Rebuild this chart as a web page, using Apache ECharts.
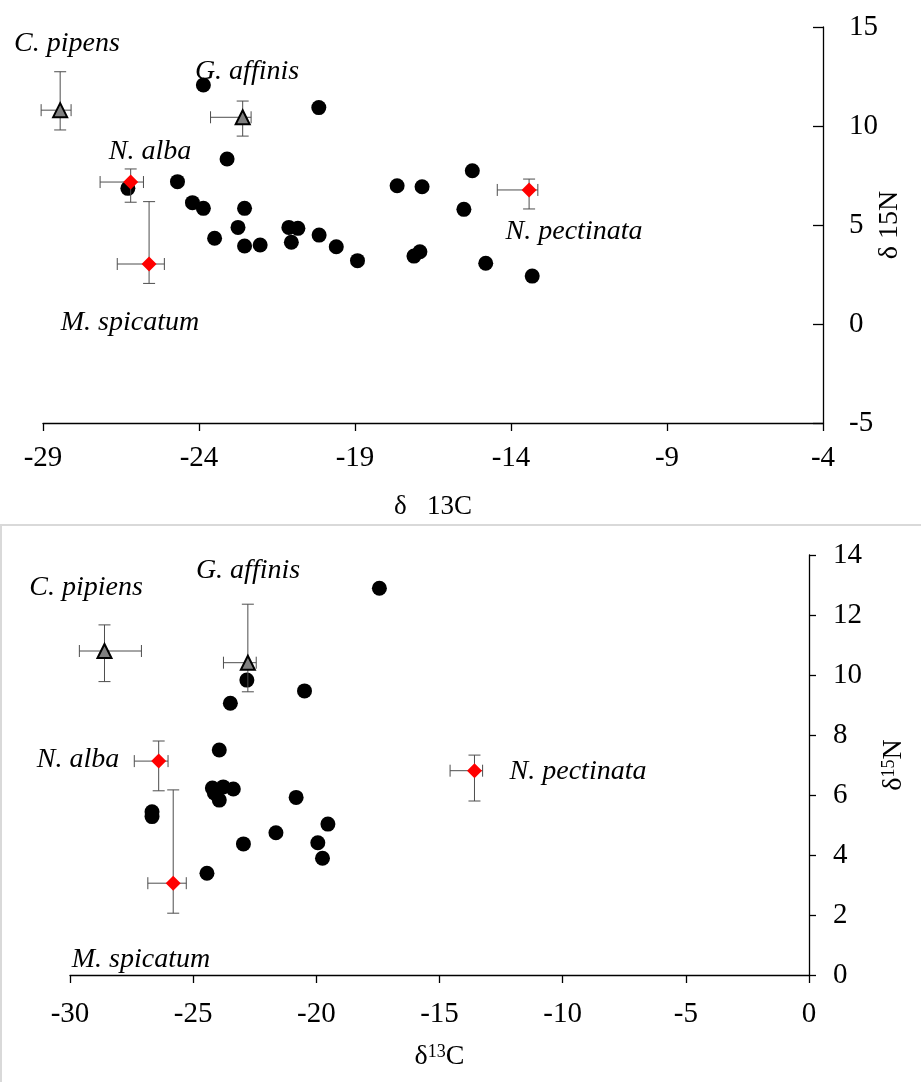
<!DOCTYPE html>
<html>
<head>
<meta charset="utf-8">
<script src="https://cdn.jsdelivr.net/npm/echarts@6/dist/echarts.min.js"></script>
<style>html,body{margin:0;padding:0;background:#fff}#c{width:921px;height:1082px}</style>
</head>
<body>
<div id="c"></div>
<script>
// ---------- Top panel data ----------
var topCircleX = [-23.86,-20.16,-23.10,-26.28,-24.69,-24.21,-23.86,-22.54,-23.50,-22.75,-22.54,-22.04,-21.12,-20.83,-21.04,-20.15,-19.60,-18.92,-17.65,-16.85,-15.51,-17.11,-16.92,-15.24,-14.81,-13.32];
var topCircleY = [12.07,10.93,8.33,6.85,7.19,6.13,5.84,5.84,4.33,4.88,3.94,3.99,4.88,4.83,4.13,4.49,3.90,3.20,6.98,6.93,5.79,3.43,3.65,7.74,3.07,2.42];
var topSpecies = ['C. pipens','G. affinis','N. alba','M. spicatum','N. pectinata'];
var topMeanX  = [-28.45,-22.60,-26.19,-25.60,-13.42];
var topMeanY  = [10.80,10.44,7.17,3.03,6.77];
var topXLow   = [-29.06,-23.63,-27.17,-26.62,-14.44];
var topXHigh  = [-28.10,-22.33,-25.78,-25.11,-13.14];
var topYLow   = [9.80,9.49,6.15,2.05,5.81];
var topYHigh  = [12.74,11.26,7.83,6.18,7.32];
var topXTicks = [-29,-24,-19,-14,-9,-4];
var topYTicks = [-5,0,5,10,15];

// ---------- Bottom panel data ----------
var botCircleX = [-17.44,-22.82,-20.48,-23.49,-23.94,-24.22,-24.14,-23.94,-23.78,-23.37,-20.82,-26.67,-26.67,-19.53,-21.64,-22.96,-19.94,-19.75,-24.44];
var botCircleY = [12.89,9.83,9.47,9.06,7.50,6.23,6.07,5.83,6.27,6.20,5.92,5.44,5.28,5.03,4.74,4.37,4.41,3.89,3.39];
var botSpecies = ['C. pipiens','G. affinis','N. alba','M. spicatum','N. pectinata'];
var botMeanX  = [-28.60,-22.78,-26.40,-25.81,-13.58];
var botMeanY  = [10.80,10.41,7.13,3.06,6.81];
var botXLow   = [-29.62,-23.77,-27.39,-26.84,-14.57];
var botXHigh  = [-27.10,-22.44,-26.02,-25.28,-13.25];
var botYLow   = [9.78,9.44,6.14,2.06,5.80];
var botYHigh  = [11.67,12.36,7.80,6.17,7.33];
var botXTicks = [-30,-25,-20,-15,-10,-5,0];
var botYTicks = [0,2,4,6,8,10,12,14];

var SERIF = '"Liberation Serif","Times New Roman",serif';

function zip(a,b){return a.map(function(v,i){return [v,b[i]];});}
function errData(mx,my,xl,xh,yl,yh,names){
  return mx.map(function(v,i){return {name:names[i],value:[v,my[i],xl[i],xh[i],yl[i],yh[i]]};});
}
function errRender(params, api){
  var c = api.coord([api.value(0), api.value(1)]);
  var xl = api.coord([api.value(2), api.value(1)]);
  var xh = api.coord([api.value(3), api.value(1)]);
  var yl = api.coord([api.value(0), api.value(4)]);
  var yh = api.coord([api.value(0), api.value(5)]);
  var cap = 6;
  var st = {stroke:'#4d4d4d', lineWidth:1};
  function L(x1,y1,x2,y2){return {type:'line',shape:{x1:x1,y1:y1,x2:x2,y2:y2},style:st};}
  return {type:'group', children:[
    L(xl[0],c[1],xh[0],c[1]),
    L(xl[0],c[1]-cap,xl[0],c[1]+cap),
    L(xh[0],c[1]-cap,xh[0],c[1]+cap),
    L(c[0],yl[1],c[0],yh[1]),
    L(c[0]-cap,yl[1],c[0]+cap,yl[1]),
    L(c[0]-cap,yh[1],c[0]+cap,yh[1])
  ]};
}
function axisX(idx,min,max,labelMargin,name,nameGap,rich){
  return {gridIndex:idx,type:'value',min:min,max:max,interval:5,
    name:name,nameLocation:'middle',nameGap:nameGap,nameMoveOverlap:false,
    nameTextStyle:{fontFamily:SERIF,fontSize:27,color:'#000',rich:rich},
    axisLine:{show:true,onZero:false,lineStyle:{color:'#000',width:1.3}},
    axisTick:{show:true,inside:false,length:8,lineStyle:{color:'#000',width:1.3}},
    axisLabel:{fontFamily:SERIF,fontSize:29,color:'#000',margin:labelMargin},
    splitLine:{show:false}};
}
function axisY(idx,min,max,interval,tickInside,labelMargin,name,nameGap,rich){
  return {gridIndex:idx,type:'value',position:'right',min:min,max:max,interval:interval,
    name:name,nameLocation:'middle',nameGap:nameGap,nameRotate:90,nameMoveOverlap:false,
    nameTextStyle:{fontFamily:SERIF,fontSize:28,color:'#000',rich:rich},
    axisLine:{show:true,onZero:false,lineStyle:{color:'#000',width:1.3}},
    axisTick:{show:true,inside:tickInside,length:tickInside?10:7,lineStyle:{color:'#000',width:1.3}},
    axisLabel:{fontFamily:SERIF,fontSize:29,color:'#000',margin:labelMargin,align:'left'},
    splitLine:{show:false}};
}

var supRich = {
  a:{fontFamily:SERIF,fontSize:28,color:'#000'},
  s:{fontFamily:SERIF,fontSize:18,color:'#000',verticalAlign:'top',padding:[0,0,10,0]}
};

var labelFont = 'italic 28px ' + SERIF;
function txt(t,x,y){return {type:'text',x:x,y:y,style:{text:t,font:labelFont,fill:'#000',align:'center',verticalAlign:'middle'},z:10};}

var topLabelPos = [[67,44],[247,72],[150,152],[130,323],[574,232]];
var botLabelPos = [[86,588],[248,571],[78,760],[141,960],[578,772]];

var graphics = [
  {type:'rect',shape:{x:1,y:525,width:940,height:600},style:{fill:'none',stroke:'#d9d9d9',lineWidth:2},z:0}
];
topSpecies.forEach(function(s,i){graphics.push(txt(s,topLabelPos[i][0],topLabelPos[i][1]));});
botSpecies.forEach(function(s,i){graphics.push(txt(s,botLabelPos[i][0],botLabelPos[i][1]));});

function speciesSeries(xi,yi,mx,my,names){
  var tri = [], dia = [];
  mx.forEach(function(v,i){
    var d = {name:names[i],value:[v,my[i]]};
    if(i<2) tri.push(d); else dia.push(d);
  });
  return [
    {type:'scatter',xAxisIndex:xi,yAxisIndex:yi,data:tri,symbol:'triangle',symbolSize:14,clip:false,z:5,
      itemStyle:{color:'#808080',borderColor:'#000',borderWidth:2,opacity:1}},
    {type:'scatter',xAxisIndex:xi,yAxisIndex:yi,data:dia,symbol:'diamond',symbolSize:15,clip:false,z:5,
      itemStyle:{color:'#ff0000',opacity:1}}
  ];
}

var option = {
  animation:false,
  backgroundColor:'#fff',
  grid:[
    {left:43,right:98,top:27,height:396},
    {left:70,right:112,top:555,height:420}
  ],
  xAxis:[
    axisX(0,-29,-4,21,'δ   13C',70,null),
    axisX(1,-30,0,25,'{a|δ}{s|13}{a|C}',68,supRich)
  ],
  yAxis:[
    axisY(0,-5,15,5,true,26,'δ 15N',53,null),
    axisY(1,0,14,2,false,24,'{a|δ}{s|15}{a|N}',71,supRich)
  ],
  graphic:graphics,
  series:[
    {type:'scatter',xAxisIndex:0,yAxisIndex:0,data:zip(topCircleX,topCircleY),symbol:'circle',symbolSize:15,z:2,
      itemStyle:{color:'#000',opacity:1}},
    {type:'custom',xAxisIndex:0,yAxisIndex:0,renderItem:errRender,clip:false,z:3,
      data:errData(topMeanX,topMeanY,topXLow,topXHigh,topYLow,topYHigh,topSpecies)},
    {type:'scatter',xAxisIndex:1,yAxisIndex:1,data:zip(botCircleX,botCircleY),symbol:'circle',symbolSize:15,z:2,
      itemStyle:{color:'#000',opacity:1}},
    {type:'custom',xAxisIndex:1,yAxisIndex:1,renderItem:errRender,clip:false,z:3,
      data:errData(botMeanX,botMeanY,botXLow,botXHigh,botYLow,botYHigh,botSpecies)}
  ].concat(speciesSeries(0,0,topMeanX,topMeanY,topSpecies))
   .concat(speciesSeries(1,1,botMeanX,botMeanY,botSpecies))
};

var chart = echarts.init(document.getElementById('c'),null,{renderer:'canvas'});
chart.setOption(option);
</script>
</body>
</html>
